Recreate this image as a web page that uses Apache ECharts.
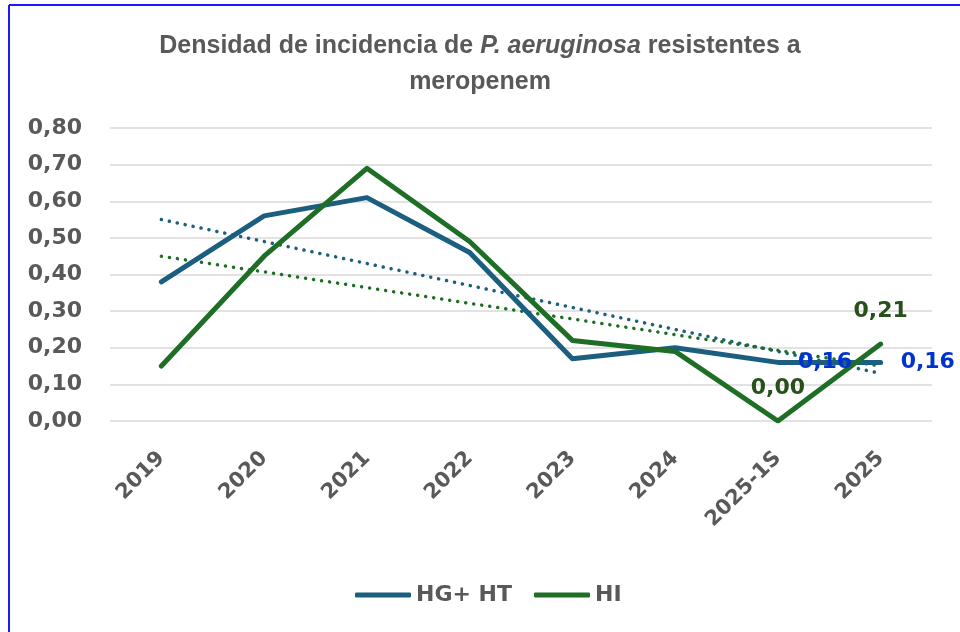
<!DOCTYPE html>
<html>
<head>
<meta charset="utf-8">
<script src="https://cdn.jsdelivr.net/npm/echarts@6/dist/echarts.min.js"></script>
<style>
  html, body { margin: 0; padding: 0; background: #fff; }
  #chart { width: 960px; height: 632px; }
</style>
</head>
<body>
<div id="chart"></div>
<script>
var years = ['2019', '2020', '2021', '2022', '2023', '2024', '2025-1S', '2025'];
var hght = [0.38, 0.56, 0.61, 0.46, 0.17, 0.20, 0.16, 0.16];
var hi = [0.15, 0.45, 0.69, 0.49, 0.22, 0.19, 0.00, 0.21];
// linear trend endpoints
var hghtTrend = [0.55, 0.13];
var hiTrend = [0.45, 0.15];

var blue = '#1b5e80';
var green = '#1e6e26';
var grey = '#595959';
var font = 'DejaVu Sans';

function fmt(v) {
    return v.toFixed(2).replace('.', ',');
}

var myChart = echarts.init(document.getElementById('chart'));

var option = {
    backgroundColor: '#fff',
    animation: false,
    title: {
        text: '{b|Densidad de incidencia de }{i|P. aeruginosa}{b| resistentes a}\n{b|meropenem}',
        left: 'center',
        top: 23,
        textStyle: {
            rich: {
                b: { fontFamily: 'Liberation Sans', fontWeight: 'bold', fontSize: 25, color: grey, lineHeight: 36 },
                i: { fontFamily: 'Liberation Sans', fontWeight: 'bold', fontStyle: 'italic', fontSize: 25, color: grey, lineHeight: 36 }
            }
        }
    },
    graphic: [
        { type: 'line', shape: { x1: 9, y1: 5, x2: 960, y2: 5 }, style: { stroke: '#1a1aff', lineWidth: 2 } },
        { type: 'line', shape: { x1: 9, y1: 5, x2: 9, y2: 632 }, style: { stroke: '#1a1aff', lineWidth: 2 } }
    ],
    legend: {
        data: ['HG+ HT', 'HI'],
        top: 579,
        left: 350,
        itemWidth: 56,
        itemHeight: 5,
        itemGap: 22,
        icon: 'roundRect',
        textStyle: { fontFamily: font, fontWeight: 'bold', fontSize: 22, color: grey }
    },
    grid: {
        left: 110,
        right: 28,
        top: 128,
        bottom: 211
    },
    xAxis: {
        type: 'category',
        data: years,
        boundaryGap: true,
        axisLine: { show: false },
        axisTick: { show: false },
        axisLabel: {
            rotate: 45,
            margin: 34,
            fontFamily: font,
            fontWeight: 'bold',
            fontSize: 21,
            color: grey
        }
    },
    yAxis: {
        type: 'value',
        min: 0,
        max: 0.8,
        interval: 0.1,
        axisLine: { show: false },
        axisTick: { show: false },
        splitLine: { lineStyle: { color: '#d9d9d9', width: 1.5 } },
        axisLabel: {
            margin: 28,
            fontFamily: font,
            fontWeight: 'bold',
            fontSize: 22,
            color: grey,
            formatter: function (v) { return fmt(v); }
        }
    },
    series: [
        {
            name: 'HG+ HT',
            type: 'line',
            data: hght,
            symbol: 'none',
            z: 3,
            lineStyle: { color: blue, width: 5, cap: 'round', join: 'round' },
            itemStyle: { color: blue },
            emphasis: { disabled: true }
        },
        {
            name: 'HI',
            type: 'line',
            data: hi,
            symbol: 'none',
            z: 4,
            lineStyle: { color: green, width: 5, cap: 'round', join: 'round' },
            itemStyle: { color: green },
            emphasis: { disabled: true }
        },
        {
            name: 'trendA',
            type: 'line',
            data: [[years[0], hghtTrend[0]], [years[7], hghtTrend[1]]],
            symbol: 'none',
            z: 2,
            lineStyle: { color: blue, width: 3.5, type: [0.1, 8], cap: 'round' },
            emphasis: { disabled: true }
        },
        {
            name: 'trendB',
            type: 'line',
            data: [[years[0], hiTrend[0]], [years[7], hiTrend[1]]],
            symbol: 'none',
            z: 2,
            lineStyle: { color: green, width: 3.5, type: [0.1, 8], cap: 'round' },
            emphasis: { disabled: true }
        },
        {
            // data labels of the last two points
            name: 'labelsA',
            type: 'scatter',
            symbolSize: 0,
            z: 6,
            itemStyle: { opacity: 1 },
            data: [[years[6], hght[6]], [years[7], hght[7]]],
            label: {
                show: true,
                position: 'right',
                distance: 20,
                opacity: 1,
                fontFamily: font,
                fontWeight: 'bold',
                fontSize: 22,
                color: '#0033cc',
                formatter: function (p) { return fmt(p.value[1]); }
            },
            emphasis: { disabled: true }
        },
        {
            name: 'labelsB',
            type: 'scatter',
            symbolSize: 0,
            z: 6,
            itemStyle: { opacity: 1 },
            data: [[years[6], hi[6]], [years[7], hi[7]]],
            label: {
                show: true,
                position: 'top',
                distance: 22,
                opacity: 1,
                fontFamily: font,
                fontWeight: 'bold',
                fontSize: 22,
                color: '#27501a',
                formatter: function (p) { return fmt(p.value[1]); }
            },
            emphasis: { disabled: true }
        }
    ]
};

myChart.setOption(option);
</script>
</body>
</html>
